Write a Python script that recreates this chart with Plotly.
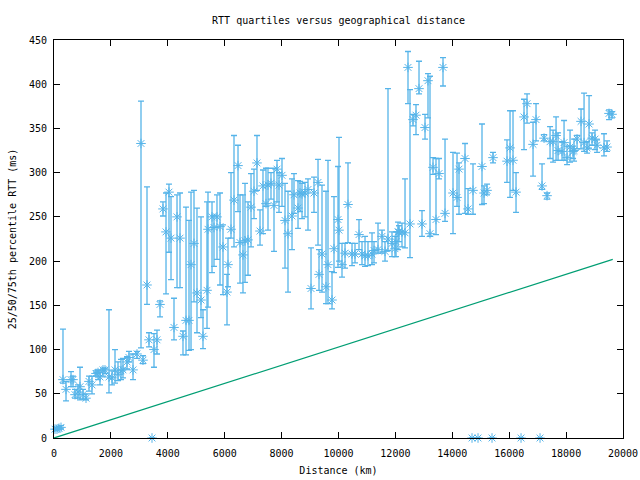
import plotly.graph_objects as go

# Distance (km), median RTT, 25th and 75th percentile RTT (ms)
distance_km = [35, 105, 176, 246, 316, 422, 598, 668, 738, 844, 914, 1020, 1125, 1230, 1336,
               1476, 1547, 1617, 1722, 1793, 1933, 2039, 2144, 2250, 2355, 2425, 2566, 2636,
               2777, 2917, 3058, 3128, 3269, 3339, 3445, 3515, 3620, 3726, 3831,
               3937, 4042, 4113, 4218, 4324, 4429, 4534, 4640, 4745, 4816, 4921, 5026, 5167,
               5237, 5378, 5413, 5554, 5624, 5729, 5835, 5940, 6081, 6116, 6222, 6327, 6468,
               6538, 6643, 6714, 6819, 6925, 7030, 7135, 7241, 7346, 7452, 7522, 7627, 7733,
               7838, 7909,
               8014, 8120, 8225, 8366, 8436, 8577, 8647, 8717, 8823, 8928, 9034, 9139, 9280,
               9315, 9420, 9561, 9631, 9772, 9842, 9983, 10018, 10123, 10229, 10334, 10475,
               10580, 10721, 10826, 10932, 11037, 11178, 11248, 11389, 11529, 11635, 11740,
               11881, 11986, 12022, 12092,
               12127, 12232, 12338, 12443, 12513, 12619, 12724, 12830, 12935, 13041, 13146,
               13216, 13322, 13427, 13533, 13673, 13744, 14025, 14166, 14236, 14447, 14553,
               14693, 14728, 14904, 15044, 15115, 15220, 15396, 15431, 15923, 16029, 16134,
               16240, 16416, 16521, 16627, 16838, 16943, 17084, 17154, 17225, 17330, 17436,
               17541, 17647, 17717, 17857, 17928, 18033, 18139, 18244, 18279, 18385, 18525,
               18631, 18736, 18807, 18912, 19017, 19087, 19333, 19439, 19509, 19614]
rtt_median = [10, 10, 11, 12, 66, 55, 66, 66, 49, 52, 58, 49, 45, 64, 60,
              73, 74, 69, 77, 77, 69, 68, 77, 72, 76, 77, 86, 91,
              77, 95, 333, 88, 173, 111, 0, 100, 111, 151, 259,
              233, 278, 226, 125, 250, 226, 115, 133, 133, 196, 220, 164, 156,
              115, 167, 236, 250, 238, 250, 239, 216, 165, 196, 236, 269, 308,
              221, 207, 223, 224, 261, 279, 311, 234, 285, 265, 286, 288, 263,
              304, 286,
              297, 246, 231, 251, 275, 260, 277, 276, 277, 281, 169, 277, 289,
              185, 208, 171, 196, 156, 214, 247, 235, 196, 209, 264, 208,
              208, 230, 208, 206, 206, 208, 212, 213, 228, 211, 225,
              220, 214, 222, 233,
              233, 233, 232, 419, 242, 360, 365, 395, 242, 351, 404,
              231, 306, 247, 299, 419, 254, 277, 272, 304, 316, 259,
              0, 280, 0, 307, 277, 280, 0, 317, 313, 328, 314,
              278, 0, 363, 378, 332, 360, 0, 285, 339, 274, 335,
              335, 342, 325, 324, 334, 317, 329, 324, 325, 338, 358,
              334, 328, 355, 339, 338, 331, 328, 329, 367, 366]
rtt_q1 = [9, 9, 10, 10, 62, 42, 58, 58, 45, 45, 43, 44, 43, 53, 50,
          70, 66, 60, 70, 73, 51, 60, 62, 65, 66, 68, 78, 86,
          66, 90, 102, 84, 151, 103, 0, 80, 95, 137, 251,
          163, 210, 179, 111, 170, 170, 94, 94, 99, 100, 154, 119, 136,
          101, 124, 148, 187, 194, 202, 173, 162, 128, 171, 226, 216, 256,
          175, 164, 176, 184, 216, 248, 280, 218, 231, 262, 235, 270, 211,
          267, 255,
          262, 192, 165, 213, 254, 237, 256, 248, 250, 235, 146, 255, 218,
          167, 165, 152, 152, 146, 187, 193, 200, 182, 192, 221, 195,
          198, 213, 196, 194, 195, 196, 198, 209, 209, 200, 212,
          205, 205, 205, 213,
          222, 216, 215, 378, 204, 353, 343, 389, 228, 338, 362,
          228, 298, 230, 293, 398, 245, 231, 262, 253, 254, 253,
          0, 253, 0, 264, 265, 275, 0, 311, 289, 272, 280,
          255, 0, 326, 356, 296, 336, 0, 281, 336, 270, 316,
          312, 314, 314, 314, 314, 309, 312, 316, 313, 327, 327,
          324, 322, 327, 331, 326, 323, 319, 324, 360, 362]
rtt_q3 = [12, 12, 13, 14, 123, 64, 75, 70, 55, 60, 80, 55, 50, 70, 70,
          76, 77, 76, 79, 79, 145, 76, 100, 86, 89, 90, 92, 98,
          95, 98, 381, 93, 284, 119, 0, 118, 122, 155, 267,
          277, 287, 273, 158, 275, 277, 121, 261, 246, 278, 280, 260, 250,
          145, 267, 278, 267, 252, 275, 277, 241, 185, 226, 300, 342, 331,
          275, 275, 288, 267, 299, 304, 342, 258, 303, 305, 305, 300, 305,
          314, 300,
          316, 288, 279, 293, 299, 291, 290, 288, 289, 293, 215, 295, 315,
          213, 286, 279, 314, 188, 273, 307, 340, 220, 220, 311, 220,
          220, 247, 222, 228, 222, 232, 222, 243, 235, 222, 395,
          233, 228, 233, 244,
          240, 243, 293, 437, 394, 366, 377, 426, 257, 366, 412,
          409, 317, 316, 316, 430, 338, 323, 322, 311, 333, 282,
          0, 310, 0, 355, 285, 287, 0, 323, 337, 370, 370,
          300, 0, 383, 389, 357, 378, 0, 310, 343, 277, 352,
          348, 363, 345, 335, 359, 330, 348, 330, 338, 342, 372,
          390, 335, 387, 345, 348, 337, 344, 336, 371, 369]

# Theoretical minimum RTT line
min_line_km = [0, 19640]
min_line_rtt = [0, 202]

err_plus = [h - m for h, m in zip(rtt_q3, rtt_median)]
err_minus = [m - l for m, l in zip(rtt_median, rtt_q1)]

blue = "#56b4e9"
green = "#009e73"
font_family = "DejaVu Sans Mono"

fig = go.Figure()
fig.add_trace(go.Scatter(
    x=distance_km, y=rtt_median, mode="markers",
    marker=dict(symbol="asterisk-open", size=8, color=blue, line=dict(color=blue, width=1)),
    error_y=dict(type="data", symmetric=False, array=err_plus, arrayminus=err_minus,
                 color=blue, thickness=1.3, width=3),
    cliponaxis=False, showlegend=False,
))
fig.add_trace(go.Scatter(
    x=min_line_km, y=min_line_rtt, mode="lines",
    line=dict(color=green, width=1.2), showlegend=False,
))

axis_common = dict(
    showline=True, linecolor="black", linewidth=1, mirror="ticks",
    ticks="inside", ticklen=6, tickcolor="black", tickwidth=1,
    showgrid=False, zeroline=False, automargin=False, tickformat="d",
    tickfont=dict(family=font_family, size=10, color="black"),
)

fig.update_layout(
    width=640, height=480,
    margin=dict(l=54, r=17, t=40, b=42),
    paper_bgcolor="white", plot_bgcolor="white",
    font=dict(family=font_family, size=10, color="black"),
    title=dict(text="RTT quartiles versus geographical distance",
               x=0.5, xref="paper", y=1 - 20 / 480, yref="container",
               xanchor="center", yanchor="middle", automargin=False,
               font=dict(family=font_family, size=10, color="black")),
    xaxis=dict(range=[0, 20000], tick0=0, dtick=2000, ticklabelstandoff=6,
               title=dict(text="Distance (km)", standoff=8,
                          font=dict(family=font_family, size=10, color="black")),
               **axis_common),
    yaxis=dict(range=[0, 450], tick0=0, dtick=50, ticklabelstandoff=4,
               title=dict(text="25/50/75th percentile RTT (ms)", standoff=10,
                          font=dict(family=font_family, size=10, color="black")),
               **axis_common),
)

fig.write_html("out.html", config={"displayModeBar": False},
               post_script="document.body.style.margin='0';")
